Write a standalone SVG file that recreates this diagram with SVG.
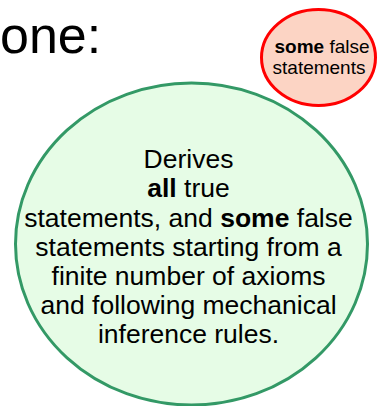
<svg xmlns="http://www.w3.org/2000/svg" width="377" height="406" viewBox="0 0 377 406">
<style>
text{font-family:"Liberation Sans",Arial,sans-serif;fill:#000;text-anchor:middle}
.b{font-weight:bold}
.main{font-size:26.5px}
.small{font-size:19px}
</style>
<rect width="377" height="406" fill="#fff"/>
<text x="0" y="53" style="font-size:52px;text-anchor:start">one:</text>
<g id="node-main">
<ellipse cx="191.5" cy="244" rx="176" ry="161" fill="#e6fce6" stroke="#339966" stroke-width="3"/>
<text class="main" x="188.5" y="168">Derives</text>
<text class="main" x="188.5" y="197"><tspan class="b">all</tspan> true</text>
<text class="main" x="188.5" y="226.5">statements, and <tspan class="b">some</tspan> false</text>
<text class="main" x="188.5" y="256">statements starting from a</text>
<text class="main" x="188.5" y="285">finite number of axioms</text>
<text class="main" x="188.5" y="314">and following mechanical</text>
<text class="main" x="188.5" y="343">inference rules.</text>
</g>
<g id="node-false">
<ellipse cx="318.5" cy="57.5" rx="57" ry="48" fill="#fcd4c4" stroke="#ff0000" stroke-width="3"/>
<text class="small" x="322" y="53"><tspan class="b">some</tspan> false</text>
<text class="small" x="319" y="74">statements</text>
</g>
<g id="connectors"/>
</svg>
